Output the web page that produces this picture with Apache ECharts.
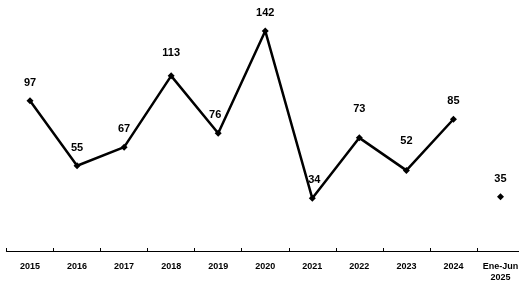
<!DOCTYPE html>
<html>
<head>
<meta charset="utf-8">
<script src="https://cdn.jsdelivr.net/npm/echarts@6/dist/echarts.min.js"></script>
<style>html,body{margin:0;padding:0;background:#fff;overflow:hidden;width:519px;height:284px}#c{width:530px;height:284px}</style>
</head>
<body>
<div id="c"></div>
<script>
var categories = ['2015','2016','2017','2018','2019','2020','2021','2022','2023','2024','Ene-Jun\n2025'];
var values = [97, 55, 67, 113, 76, 142, 34, 73, 52, 85, 35];
var separateLast = 1; // last category shown as an unconnected point

// label placement tweaks (styling only), by category index: [dx, dy]
var labelNudge = {3: [0, -5], 4: [-3, 0], 7: [0, -11], 8: [0, -11], 6: [2, 0]};

var lineCount = values.length - separateLast;
function mk(i, v) {
  var item = { value: v };
  var n = labelNudge[i];
  if (n) item.label = { offset: n };
  return item;
}
var lineData = values.map(function (v, i) { return i < lineCount ? mk(i, v) : '-'; });
var pointData = values.map(function (v, i) { return i >= lineCount ? mk(i, v) : '-'; });

var font = '"Liberation Sans", Arial, sans-serif';
var lbl = { show: true, position: 'top', distance: 9, color: '#000', fontSize: 11, fontWeight: 'bold', fontFamily: font };

var chart = echarts.init(document.getElementById('c'), null, { renderer: 'canvas' });
chart.setOption({
  animation: false,
  backgroundColor: '#fff',
  grid: { left: 6.5, right: 6, top: 3, bottom: 33, containLabel: false },
  xAxis: {
    type: 'category',
    data: categories,
    boundaryGap: true,
    axisLine: { show: true, lineStyle: { color: '#000', width: 1.2 } },
    axisTick: { show: true, inside: true, length: 3, interval: 0, lineStyle: { color: '#000', width: 1 } },
    axisLabel: { interval: 0, margin: 10, color: '#000', fontSize: 9, fontWeight: 'bold', fontFamily: font, lineHeight: 11 }
  },
  yAxis: {
    type: 'value', min: 0, max: 160,
    show: false,
    splitLine: { show: false }
  },
  series: [
    {
      type: 'line',
      data: lineData,
      symbol: 'diamond', symbolSize: 7,
      lineStyle: { color: '#000', width: 2.5 },
      itemStyle: { color: '#000' },
      label: lbl,
      connectNulls: false
    },
    {
      type: 'line',
      data: pointData,
      symbol: 'diamond', symbolSize: 7,
      lineStyle: { width: 0 },
      itemStyle: { color: '#000' },
      label: lbl
    }
  ]
});
</script>
</body>
</html>
